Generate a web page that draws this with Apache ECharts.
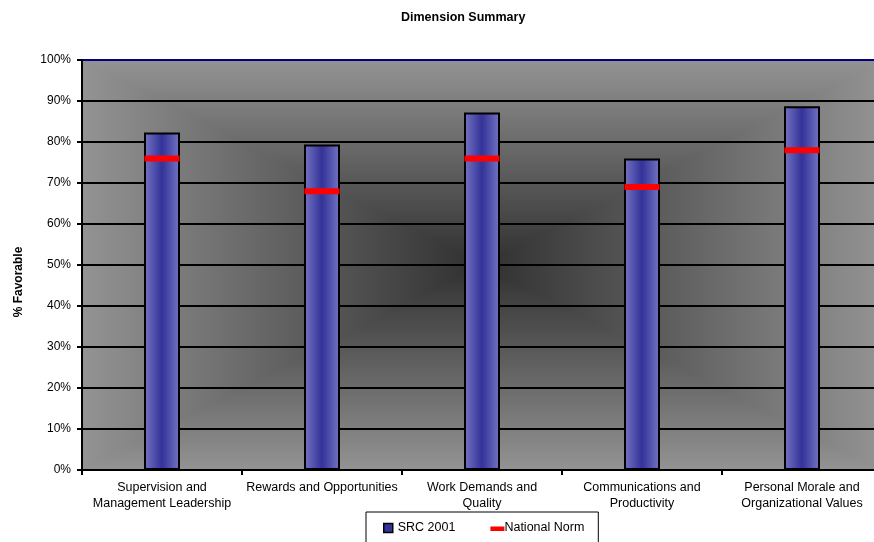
<!DOCTYPE html>
<html>
<head>
<meta charset="utf-8">
<style>
  html, body { margin: 0; padding: 0; background: #fff; }
  #chart { width: 874px; height: 542px; }
</style>
<script src="https://cdn.jsdelivr.net/npm/echarts@6/dist/echarts.min.js"></script>
</head>
<body>
<div id="chart"></div>
<script>
// Dimension names (x-axis)
const categories = [
  'Supervision and\nManagement Leadership',
  'Rewards and Opportunities',
  'Work Demands and\nQuality',
  'Communications and\nProductivity',
  'Personal Morale and\nOrganizational Values'
];
// % favorable, SRC 2001
const src2001 = [82.3, 79.4, 87.2, 76.0, 88.7];
// % favorable, national norm
const nationalNorm = [76, 68, 76, 69, 78];
// y-axis ticks
const yTicks = [0, 10, 20, 30, 40, 50, 60, 70, 80, 90, 100];

const FONT = '"Liberation Sans", Arial, sans-serif';
// plot area runs a little past the right edge of the canvas
const G = { left: 82, top: 60, width: 800, height: 410 };
const cx = G.left + G.width / 2, cy = G.top + G.height / 2;
const EDGE = '#939393', CENTER = '#303030';

const L = G.left, R = G.left + G.width, T = G.top, B = G.top + G.height;
// plot-area background: rectangular gradient, dark in the middle.
// A full rectangle carries the vertical part, two side triangles the horizontal part.
const bgPieces = [
  {
    type: 'rect', z: -10, silent: true,
    shape: { x: L, y: T, width: G.width, height: G.height },
    style: { fill: { type: 'linear', x: 0, y: 0, x2: 0, y2: 1, colorStops: [
      { offset: 0, color: EDGE }, { offset: 0.5, color: CENTER }, { offset: 1, color: EDGE }] } }
  },
  {
    type: 'polygon', z: -9, silent: true,
    shape: { points: [[L, T], [L, B], [cx, cy]] },
    style: { fill: { type: 'linear', x: 0, y: 0, x2: 1, y2: 0, colorStops: [
      { offset: 0, color: EDGE }, { offset: 1, color: CENTER }] } }
  },
  {
    type: 'polygon', z: -9, silent: true,
    shape: { points: [[R, T], [R, B], [cx, cy]] },
    style: { fill: { type: 'linear', x: 0, y: 0, x2: 1, y2: 0, colorStops: [
      { offset: 0, color: CENTER }, { offset: 1, color: EDGE }] } }
  }
];

const barFill = {
  type: 'linear', x: 0, y: 0, x2: 1, y2: 0,
  colorStops: [
    { offset: 0, color: '#7575c4' },
    { offset: 0.5, color: '#333399' },
    { offset: 1, color: '#7575c4' }
  ]
};

const splitColors = yTicks.map((v, i) => i === yTicks.length - 1 ? '#000080' : '#000000');

const chart = echarts.init(document.getElementById('chart'));
chart.setOption({
  animation: false,
  backgroundColor: '#ffffff',
  textStyle: { fontFamily: FONT },
  title: {
    text: 'Dimension Summary',
    left: 401, top: 11, padding: 0,
    textStyle: { fontFamily: FONT, fontSize: 12.5, fontWeight: 'bold', color: '#000' }
  },
  graphic: bgPieces,
  legend: {
    left: 366, top: 512,
    padding: [9, 14, 12, 12],
    backgroundColor: '#ffffff',
    borderColor: '#000', borderWidth: 1, borderRadius: 0,
    itemWidth: 14, itemHeight: 10, itemGap: 35,
    textStyle: { fontFamily: FONT, fontSize: 12.5, color: '#000' },
    data: [
      { name: 'SRC 2001',
        icon: 'path://M0,0 M14,10 M5,1 L14,1 L14,10 L5,10 Z',
        itemStyle: { color: '#333399', borderColor: '#000', borderWidth: 1.5 } },
      { name: 'National Norm',
        icon: 'path://M0,0 M14,10 M0,4 L14,4 L14,8.5 L0,8.5 Z',
        itemStyle: { color: '#ff0000', borderWidth: 0 },
        textStyle: { padding: [0, 0, 0, -5] } }
    ]
  },
  grid: {
    left: G.left, top: G.top, width: G.width, height: G.height,
    containLabel: false,
    outerBoundsMode: 'none'
  },
  xAxis: {
    type: 'category',
    data: categories,
    axisLine: { lineStyle: { color: '#000', width: 2 } },
    axisTick: { show: true, length: 5, alignWithLabel: false, lineStyle: { color: '#000', width: 2 } },
    axisLabel: { interval: 0, margin: 10, fontSize: 12.5, lineHeight: 16, color: '#000', fontFamily: FONT },
    splitLine: { show: false }
  },
  yAxis: {
    type: 'value',
    min: 0, max: 100, interval: 10,
    name: '% Favorable',
    nameLocation: 'middle',
    nameGap: 57,
    nameTextStyle: { fontFamily: FONT, fontSize: 12, fontWeight: 'bold', color: '#000', padding: [0, 34, 0, 0] },
    axisLine: { show: true, lineStyle: { color: '#000', width: 2 } },
    axisTick: { show: true, length: 5, lineStyle: { color: '#000', width: 2 } },
    axisLabel: { margin: 11, fontSize: 12, color: '#000', fontFamily: FONT, formatter: '{value}%' },
    splitLine: { show: true, lineStyle: { color: splitColors, width: 2 } }
  },
  series: [
    {
      name: 'SRC 2001',
      type: 'bar',
      data: src2001,
      barWidth: 36,
      z: 3,
      itemStyle: { color: barFill, borderColor: '#000', borderWidth: 2 }
    },
    {
      name: 'National Norm',
      type: 'scatter',
      data: nationalNorm,
      symbol: 'rect',
      symbolSize: [35, 6],
      z: 5,
      itemStyle: { color: '#ff0000', opacity: 1 }
    }
  ]
});
</script>
</body>
</html>
